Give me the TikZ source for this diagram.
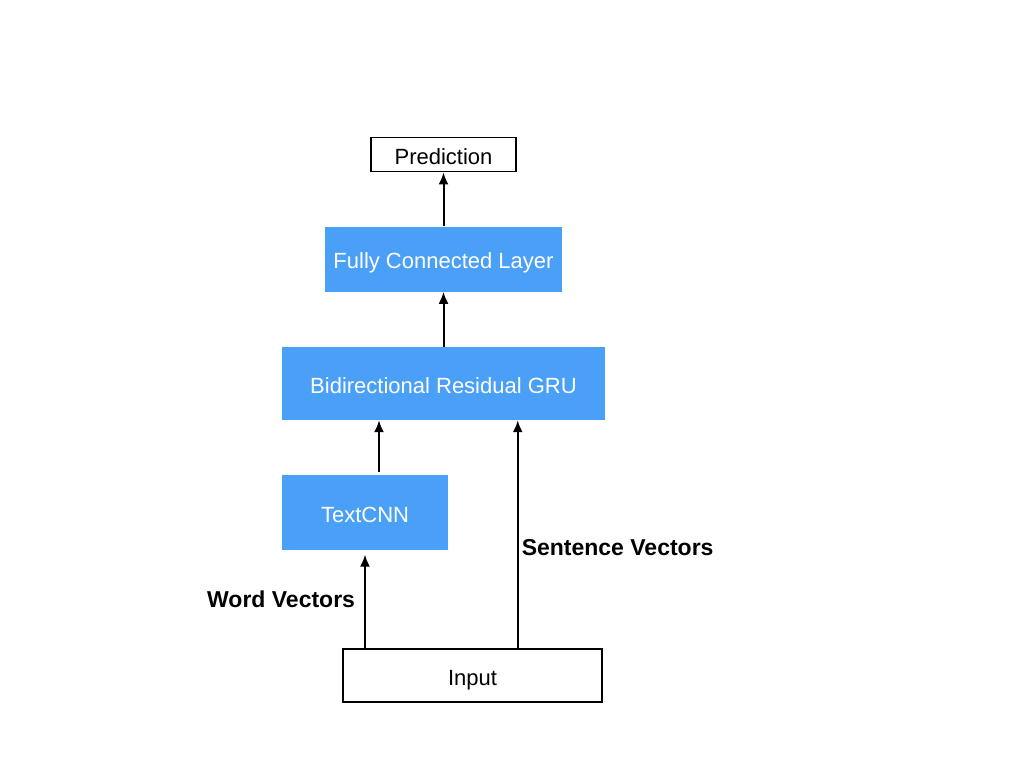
\documentclass[tikz,border=0pt]{standalone}
\usepackage{fontspec}
\setmainfont{Liberation Sans}
\usetikzlibrary{positioning,arrows.meta}

\definecolor{layerblue}{RGB}{74,160,246}

\tikzset{
  layer/.style={rectangle, fill=layerblue, text=white, inner sep=0pt,
    text height=19pt, text depth=0pt, font=\fontsize{22}{26}\selectfont},
  iobox/.style={rectangle, draw=black, line width=1.5pt, fill=white, inner sep=0pt,
    text height=19pt, text depth=0pt, font=\fontsize{22}{26}\selectfont},
  flow/.style={-{Latex[length=12pt,width=10pt]}, line width=2pt},
  vlabel/.style={font=\fontsize{23}{27}\selectfont\bfseries, inner sep=0pt}
}

\begin{document}
\begin{tikzpicture}[x=1pt,y=-1pt]

  \useasboundingbox (0,0) rectangle (1024,768);

      \node (GRU) [layer, minimum width=323pt, minimum height=73pt] at (443.5,383.5) {Bidirectional Residual GRU};
      \node (FC) [layer, minimum width=237pt, minimum height=65pt, above=55pt of GRU] {Fully Connected Layer};
      \node (Prediction) [iobox, minimum width=145pt, minimum height=34pt, above=54pt of FC] {Prediction};

      \node (TextCNN) [layer, minimum width=166pt, minimum height=75pt,
        below=55pt of GRU.south west, anchor=north west] {TextCNN};
      \node (Input) [iobox, minimum width=259pt, minimum height=53pt] at (472.5,675.5) {Input};

      %% connectors
      \draw[flow] (FC) -- (Prediction);
      \draw[flow] (GRU) -- (FC);

      \coordinate (CNNout) at ([xshift=14pt,yshift=3pt]TextCNN.north);
      \draw[flow] (CNNout) -- (CNNout |- GRU.south);

      \draw[flow, shorten >=4pt] (Input.north -| TextCNN.south) -- (TextCNN.south)
        node (WordLabel) [vlabel, midway, left=9pt] {Word Vectors};

      \coordinate (SentIn) at ([xshift=-85pt]Input.north east);
      \draw[flow] (SentIn) -- (SentIn |- GRU.south)
        node (SentLabel) [vlabel, pos=0.44, right=3pt] {Sentence Vectors};

\end{tikzpicture}
\end{document}
